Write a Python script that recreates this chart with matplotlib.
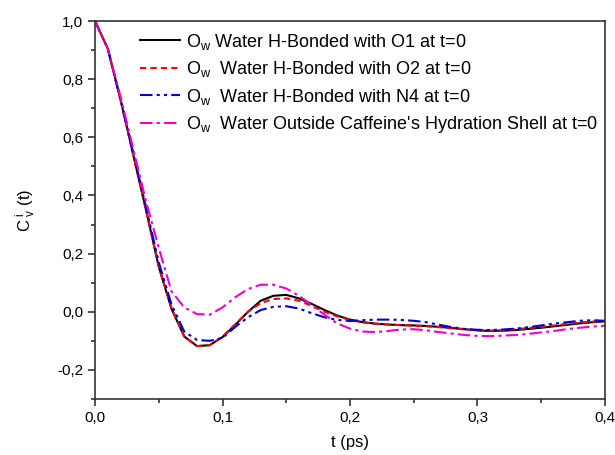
import matplotlib
matplotlib.use("Agg")
import matplotlib.pyplot as plt
from matplotlib.ticker import MultipleLocator, FuncFormatter

plt.rcParams['font.family'] = ['Liberation Sans', 'DejaVu Sans']
plt.rcParams['mathtext.default'] = 'regular'

# --- data (step 0.01 ps) ---
t = [i / 100 for i in range(41)]

c_o1 = [1.0, 0.905, 0.73, 0.54, 0.35, 0.155, 0.01, -0.085, -0.118, -0.115,
        -0.087, -0.045, 0.0, 0.038, 0.055, 0.058, 0.046, 0.027, 0.006, -0.013,
        -0.027, -0.036, -0.041, -0.044, -0.046, -0.047, -0.049, -0.052, -0.056, -0.060,
        -0.064, -0.066, -0.065, -0.063, -0.059, -0.055, -0.050, -0.045, -0.040, -0.036,
        -0.033]

c_o2 = [1.0, 0.905, 0.73, 0.54, 0.35, 0.155, 0.012, -0.085, -0.118, -0.115,
        -0.085, -0.043, 0.0, 0.030, 0.044, 0.046, 0.038, 0.020, 0.0, -0.016,
        -0.028, -0.036, -0.041, -0.044, -0.046, -0.048, -0.050, -0.053, -0.057, -0.061,
        -0.064, -0.065, -0.063, -0.060, -0.056, -0.052, -0.047, -0.042, -0.037, -0.034,
        -0.032]

c_n4 = [1.0, 0.905, 0.73, 0.545, 0.36, 0.17, 0.025, -0.068, -0.097, -0.100,
        -0.090, -0.052, -0.019, 0.006, 0.017, 0.019, 0.011, -0.005, -0.019, -0.028,
        -0.032, -0.029, -0.027, -0.027, -0.028, -0.031, -0.036, -0.045, -0.053, -0.059,
        -0.062, -0.063, -0.061, -0.058, -0.053, -0.047, -0.041, -0.036, -0.031, -0.029,
        -0.031]

c_out = [1.0, 0.905, 0.74, 0.56, 0.38, 0.22, 0.07, 0.015, -0.008, -0.010,
         0.015, 0.050, 0.078, 0.093, 0.093, 0.080, 0.055, 0.022, -0.010, -0.040,
         -0.058, -0.068, -0.070, -0.066, -0.061, -0.060, -0.064, -0.070, -0.075, -0.080,
         -0.083, -0.084, -0.082, -0.080, -0.076, -0.071, -0.066, -0.060, -0.055, -0.051,
         -0.048]

labels = [
    "O$_w$ Water H-Bonded with O1 at t=0",
    "O$_w$  Water H-Bonded with O2 at t=0",
    "O$_w$  Water H-Bonded with N4 at t=0",
    "O$_w$  Water Outside Caffeine's Hydration Shell at t=0",
]

fig = plt.figure(figsize=(6.15, 4.55), dpi=100)
ax = fig.add_axes([0.1545, 0.1231, 0.8292, 0.8307])

ax.plot(t, c_o1, color='black', lw=1.5, ls='-', label=labels[0])
ax.plot(t, c_o2, color='red', lw=1.5, ls=(0, (3, 2)), label=labels[1])
ax.plot(t, c_n4, color='#0000dd', lw=1.5, ls=(0, (6, 2, 1.5, 2, 1.5, 2)), label=labels[2])
ax.plot(t, c_out, color='#ee00cc', lw=1.5, ls=(0, (6, 2, 1.5, 2)), label=labels[3])

ax.set_xlim(0, 0.4)
ax.set_ylim(-0.3, 1.0)
ax.xaxis.set_major_locator(MultipleLocator(0.1))
ax.xaxis.set_minor_locator(MultipleLocator(0.05))
ax.yaxis.set_major_locator(MultipleLocator(0.2))
ax.yaxis.set_minor_locator(MultipleLocator(0.1))

comma = FuncFormatter(lambda v, p: f"{v:.1f}".replace('.', ',').replace('-0,0', '0,0'))
ax.xaxis.set_major_formatter(comma)
ax.yaxis.set_major_formatter(comma)

ax.tick_params(which='both', direction='out', top=False, right=False, labelsize=11, width=1.1, color='#222222')
ax.tick_params(which='major', length=5)
ax.tick_params(which='minor', length=3)
for s in ax.spines.values():
    s.set_linewidth(1.2)
    s.set_color('#333333')

ax.set_xlabel("t (ps)", fontsize=12, labelpad=7)
ax.set_ylabel("C$^{\\ i}_{\\ v}$ (t)", fontsize=12, labelpad=14)

ax.legend(loc='upper left', bbox_to_anchor=(0.088, 0.972), frameon=False, fontsize=13,
          handlelength=2.2, handletextpad=0.38, labelspacing=0.42, borderpad=0, borderaxespad=0)

fig.savefig("out.png", dpi=100)
